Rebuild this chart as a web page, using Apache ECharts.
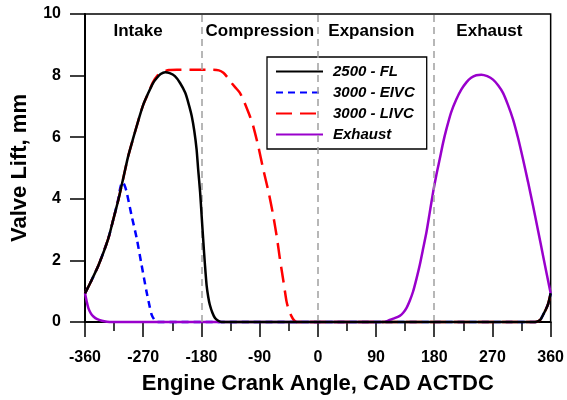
<!DOCTYPE html>
<html>
<head>
<meta charset="utf-8">
<script src="https://cdn.jsdelivr.net/npm/echarts@6/dist/echarts.min.js"></script>
<style>
  html, body { margin: 0; padding: 0; background: #fff; }
  #chart { width: 567px; height: 400px; }
</style>
</head>
<body>
<div id="chart"></div>
<script>
// Valve lift profiles vs crank angle (CAD after combustion TDC)
const xTicks = [-360, -270, -180, -90, 0, 90, 180, 270, 360];
const yTicks = [0, 2, 4, 6, 8, 10];

const seriesNames = ['2500 - FL', '3000 - EIVC', '3000 - LIVC', 'Exhaust'];

// [crank angle, lift mm]
const intakeFL = [
  [-360, 0.93], [-350, 1.35], [-339, 1.85], [-324, 2.71], [-316, 3.35], [-308, 4.0],
  [-300, 4.75], [-293, 5.4], [-285, 6.0], [-277, 6.58], [-270, 7.05], [-262, 7.44],
  [-255, 7.75], [-249, 7.92], [-243, 8.05], [-236, 8.11], [-229, 8.08], [-221, 7.98],
  [-213, 7.76], [-205, 7.44], [-200, 7.1], [-195, 6.69], [-191, 6.2], [-187.5, 5.61],
  [-185, 4.95], [-182, 4.21], [-179.5, 3.4], [-177, 2.6], [-174.5, 1.85], [-172, 1.2],
  [-169.5, 0.82], [-167, 0.56], [-163, 0.3], [-159, 0.13], [-154, 0.04], [-149, 0],
  [-100, 0], [0, 0], [100, 0], [200, 0], [300, 0], [336, 0], [341, 0.03], [345, 0.1],
  [348, 0.22], [352, 0.38], [356, 0.58], [360, 0.93]
];

const intakeEIVC = [
  [-360, 0.93], [-350, 1.35], [-339, 1.85], [-324, 2.71], [-316, 3.35], [-309, 3.95],
  [-305.5, 4.35], [-302.5, 4.54], [-299, 4.45], [-295.5, 4.21], [-288, 3.46],
  [-280, 2.71], [-272.5, 1.85], [-265, 1.0], [-261, 0.6], [-257, 0.24], [-253, 0.08],
  [-249, 0], [-100, 0], [0, 0], [100, 0], [200, 0], [300, 0], [336, 0], [341, 0.03],
  [345, 0.1], [348, 0.22], [352, 0.38], [356, 0.58], [360, 0.93]
];

const intakeLIVC = [
  [-360, 0.93], [-350, 1.35], [-339, 1.85], [-324, 2.71], [-316, 3.35], [-308, 4.0],
  [-300, 4.75], [-293, 5.4], [-285, 6.0], [-277, 6.58], [-270, 7.05], [-262, 7.44],
  [-255, 7.78], [-248, 8.0], [-240, 8.12], [-230, 8.18], [-218, 8.19], [-190, 8.19],
  [-165, 8.19], [-153, 8.17], [-146, 8.09], [-140, 7.95], [-133, 7.75], [-126, 7.58],
  [-120.5, 7.44], [-115, 7.2], [-110, 6.95], [-105, 6.68], [-100, 6.37], [-92, 5.7],
  [-84.5, 4.97], [-76, 4.2], [-69, 3.46], [-63, 2.7], [-58.7, 2.06], [-53, 1.3],
  [-48.4, 0.67], [-45, 0.4], [-41, 0.2], [-37, 0.06], [-33, 0], [0, 0], [100, 0],
  [200, 0], [300, 0], [336, 0], [341, 0.03], [345, 0.1], [348, 0.22], [352, 0.38],
  [356, 0.58], [360, 0.93]
];

const exhaust = [
  [-360, 0.93], [-357.5, 0.68], [-354.8, 0.45], [-351, 0.28], [-347, 0.18],
  [-341, 0.09], [-334, 0.04], [-326, 0.01], [-318, 0], [-200, 0], [0, 0], [100, 0],
  [106, 0.02], [111, 0.07], [118, 0.12], [126.7, 0.2], [132, 0.3], [137, 0.45],
  [142, 0.68], [147.3, 0.99], [152.5, 1.4], [157.6, 1.85], [163, 2.4], [168, 2.92],
  [173, 3.55], [178.2, 4.21], [183.5, 4.8], [188.5, 5.29], [193.5, 5.8], [198.8, 6.26],
  [206, 6.8], [214.2, 7.23], [222, 7.55], [229.7, 7.78], [237, 7.93], [245, 8.01],
  [252.8, 8.03], [262, 7.98], [270.9, 7.87], [279, 7.68], [286.3, 7.44], [294, 7.05],
  [301.8, 6.58], [309.5, 5.98], [317.2, 5.29], [325, 4.55], [332.7, 3.78], [340.5, 2.97],
  [348.1, 2.17], [354, 1.55], [360, 0.93]
];

// Stroke boundaries and stroke names
const strokeBounds = [-180, 0, 180];
const strokeLabels = ['Intake', 'Compression', 'Expansion', 'Exhaust'];
const strokeLabelX = [-278, -89.6, 82.7, 265.3];
const strokeLabelY = 9.43;

const FONT = '"Liberation Sans", Arial, sans-serif';
const MAJOR_TICK = 15;
const MINOR_TICK = 9;

const chart = echarts.init(document.getElementById('chart'));

// clip is off so no clip path is attached to the series or its markers
const lineBase = { type: 'line', showSymbol: false, symbol: 'none', smooth: 0.25, animation: false, clip: false };

const option = {
  animation: false,
  grid: {
    left: 85, right: 16, top: 14, bottom: 76,
    show: true, borderColor: '#000', borderWidth: 1.5
  },
  legend: {
    data: seriesNames,
    orient: 'vertical',
    left: 267,
    top: 57,
    padding: [7, 12, 7, 8],
    itemGap: 6,
    itemWidth: 47,
    itemHeight: 14,
    backgroundColor: '#fff',
    borderColor: '#000',
    borderWidth: 1.3,
    borderRadius: 0,
    itemStyle: { opacity: 0, borderWidth: 0 },
    textStyle: {
      fontFamily: FONT, fontSize: 15, fontWeight: 'bold', fontStyle: 'italic',
      color: '#000', padding: [0, 0, 0, 5]
    }
  },
  xAxis: {
    type: 'value',
    min: xTicks[0], max: xTicks[xTicks.length - 1], interval: 90,
    name: 'Engine Crank Angle, CAD ACTDC',
    nameLocation: 'middle',
    nameGap: 51,
    nameTextStyle: { fontFamily: FONT, fontSize: 22, fontWeight: 'bold', color: '#000' },
    axisLine: { show: true, onZero: false, lineStyle: { color: '#000', width: 2 } },
    axisTick: { show: true, length: MAJOR_TICK, lineStyle: { color: '#000', width: 1.5 } },
    minorTick: { show: true, splitNumber: 2, length: MINOR_TICK, lineStyle: { color: '#000', width: 1.5 } },
    splitLine: { show: false },
    axisLabel: { margin: 28, fontFamily: FONT, fontSize: 16, fontWeight: 'bold', color: '#000' }
  },
  yAxis: {
    type: 'value',
    min: yTicks[0], max: yTicks[yTicks.length - 1], interval: 2,
    name: 'Valve Lift, mm',
    nameLocation: 'middle',
    nameGap: 54,
    nameTextStyle: { fontFamily: FONT, fontSize: 22, fontWeight: 'bold', color: '#000' },
    axisLine: { show: true, onZero: false, lineStyle: { color: '#000', width: 2 } },
    axisTick: { show: true, length: MAJOR_TICK, lineStyle: { color: '#000', width: 1.5 } },
    splitLine: { show: false },
    axisLabel: { margin: 24, fontFamily: FONT, fontSize: 16, fontWeight: 'bold', color: '#000' }
  },
  series: [
    Object.assign({}, lineBase, {
      name: seriesNames[0], data: intakeFL, z: 5,
      color: '#000000',
      lineStyle: { color: '#000000', width: 2.5 },
      markLine: {
        silent: true, symbol: 'none', animation: false,
        label: { show: false },
        lineStyle: { color: '#a0a0a0', width: 1.5, type: [7, 5] },
        data: strokeBounds.map(v => ({ xAxis: v }))
      },
      markPoint: {
        silent: true, symbol: 'circle', symbolSize: 0, animation: false,
        label: {
          show: true, position: 'inside', formatter: p => p.name,
          fontFamily: FONT, fontSize: 17, fontWeight: 'bold', color: '#000'
        },
        data: strokeLabels.map((t, i) => ({ name: t, coord: [strokeLabelX[i], strokeLabelY] }))
      }
    }),
    Object.assign({}, lineBase, {
      name: seriesNames[1], data: intakeEIVC, z: 2,
      color: '#0000ff',
      lineStyle: { color: '#0000ff', width: 2.5, type: [7, 5] }
    }),
    Object.assign({}, lineBase, {
      name: seriesNames[2], data: intakeLIVC, z: 2,
      color: '#ff0000',
      lineStyle: { color: '#ff0000', width: 2.5, type: [16, 8] }
    }),
    Object.assign({}, lineBase, {
      name: seriesNames[3], data: exhaust, z: 3,
      color: '#9900cc',
      lineStyle: { color: '#9900cc', width: 2.5 }
    })
  ]
};

chart.setOption(option);
</script>
</body>
</html>
